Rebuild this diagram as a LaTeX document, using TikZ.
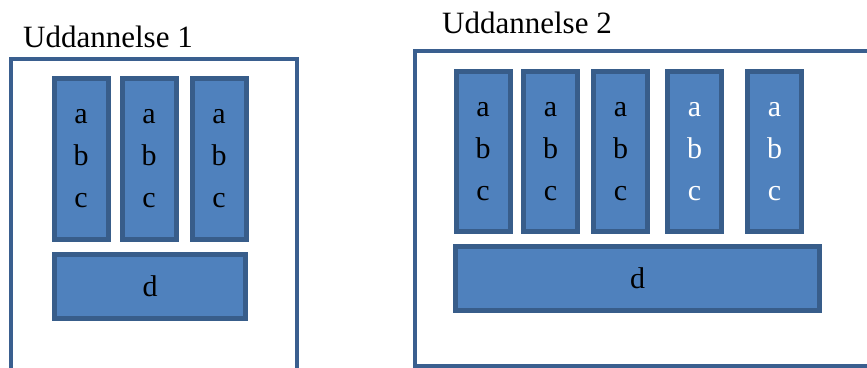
\documentclass[tikz,border=0pt]{standalone}
\usepackage{fontspec}
\setmainfont{Liberation Serif}
\definecolor{boxfill}{HTML}{4F81BD}
\definecolor{boxline}{HTML}{385D8A}
\definecolor{frameline}{HTML}{3A5F8F}
\begin{document}
\begin{tikzpicture}[x=1pt,y=-1pt,
  col/.style={draw=boxline, fill=boxfill, line width=5pt, minimum width=54pt,
    minimum height=161pt, inner sep=0pt, align=center,
    font=\fontsize{30}{42}\selectfont},
  bar/.style={draw=boxline, fill=boxfill, line width=5pt, minimum height=64pt,
    inner sep=0pt, font=\fontsize{30}{42}\selectfont},
  frame/.style={draw=frameline, line width=4pt},
  lbl/.style={anchor=base west, inner sep=0pt, font=\fontsize{31}{36}\selectfont}]
\useasboundingbox (0,0) rectangle (867,367);
\clip (0,0) rectangle (867,367);
% left group
\draw[frame] (11,380) -- (11,59) -- (297,59) -- (297,380);
\node[lbl] (t1) at (23,47) {Uddannelse 1};
\node[col] (l1) at (81,158.5) {a\\b\\c};
\node[col] (l2) at (149,158.5) {a\\b\\c};
\node[col] (l3) at (219,158.5) {a\\b\\c};
\node[bar, minimum width=191pt] (ld) at (150,286) {d};
% right group
\draw[frame] (414.5,50.5) rectangle (890,365.5);
\node[lbl] (t2) at (442,33) {Uddannelse 2};
\node[col, minimum height=160pt] (r1) at (483,151.5) {a\\b\\c};
\node[col, minimum height=160pt] (r2) at (550.5,151.5) {a\\b\\c};
\node[col, minimum height=160pt] (r3) at (620.5,151.5) {a\\b\\c};
\node[col, minimum height=160pt, text=white] (r4) at (694.5,151.5) {a\\b\\c};
\node[col, minimum height=160pt, text=white] (r5) at (774.5,151.5) {a\\b\\c};
\node[bar, minimum width=364pt] (rd) at (637.5,278.5) {d};
\end{tikzpicture}
\end{document}
